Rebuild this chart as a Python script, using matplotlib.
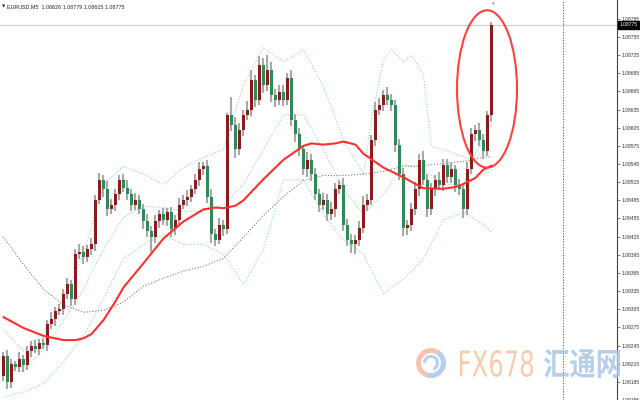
import numpy as np
import matplotlib
matplotlib.use("Agg")
import matplotlib.pyplot as plt
import matplotlib.transforms as mtrans
from matplotlib.patches import Ellipse, Wedge, PathPatch
from matplotlib.textpath import TextPath
from matplotlib.font_manager import FontProperties

# =========================
# DATA (EURUSD M5)
# =========================
SYMBOL = "EURUSD,M5"
HEADER_OHLC = ["1.08626", "1.08779", "1.08615", "1.08775"]
LAST_PRICE = 1.08775

FIRST_OPEN = 1.08195
CLOSE = [
    1.08228, 1.08185, 1.08214, 1.08210, 1.08223, 1.08213, 1.08236, 1.08244, 1.08239, 1.08249,
    1.08246, 1.08280, 1.08289, 1.08302, 1.08305, 1.08330, 1.08346, 1.08322, 1.08396, 1.08400,
    1.08391, 1.08404, 1.08412, 1.08486, 1.08519, 1.08503, 1.08470, 1.08478, 1.08495, 1.08519,
    1.08506, 1.08495, 1.08478, 1.08486, 1.08470, 1.08450, 1.08434, 1.08424, 1.08450, 1.08462,
    1.08453, 1.08465, 1.08437, 1.08453, 1.08478, 1.08486, 1.08491, 1.08503, 1.08519, 1.08536,
    1.08541, 1.08491, 1.08429, 1.08420, 1.08445, 1.08437, 1.08626, 1.08610, 1.08569, 1.08602,
    1.08626, 1.08635, 1.08684, 1.08651, 1.08709, 1.08676, 1.08701, 1.08659, 1.08651, 1.08664,
    1.08651, 1.08687, 1.08618, 1.08594, 1.08569, 1.08536, 1.08552, 1.08528, 1.08495, 1.08478,
    1.08486, 1.08462, 1.08470, 1.08503, 1.08511, 1.08445, 1.08420, 1.08412, 1.08420, 1.08440,
    1.08478, 1.08486, 1.08585, 1.08635, 1.08643, 1.08659, 1.08651, 1.08643, 1.08577, 1.08528,
    1.08440, 1.08445, 1.08470, 1.08503, 1.08552, 1.08519, 1.08470, 1.08503, 1.08519, 1.08511,
    1.08544, 1.08523, 1.08536, 1.08511, 1.08503, 1.08470, 1.08536, 1.08594, 1.08602, 1.08585,
    1.08566, 1.08626, 1.08775,
]
# wick lengths beyond the body, in pips
UP_WICK = [
    0.7, 0.9, 0.8, 0.6, 1.1, 0.7, 0.9, 0.8, 1.0, 0.7,
    0.8, 0.7, 1.1, 0.6, 0.9, 0.8, 1.0, 0.7, 0.8, 1.2,
    0.9, 0.7, 1.0, 0.8, 1.1, 0.7, 1.4, 0.9, 0.8, 0.7,
    1.0, 1.2, 0.8, 1.1, 0.7, 0.9, 1.3, 0.8, 1.0, 0.7,
    1.1, 0.8, 0.9, 0.7, 1.0, 0.8, 1.1, 0.7, 0.9, 1.2,
    0.8, 1.0, 1.2, 0.9, 1.1, 0.8, 0.4, 3.0, 1.2, 1.0,
    0.9, 1.4, 1.7, 0.8, 1.5, 1.1, 2.4, 1.3, 1.0, 1.2,
    1.1, 0.9, 1.4, 1.0, 1.1, 0.8, 1.2, 0.9, 1.0, 0.8,
    1.1, 0.9, 1.3, 1.0, 0.8, 1.1, 0.9, 1.0, 0.8, 1.1,
    1.4, 1.0, 0.8, 1.2, 1.1, 0.9, 1.3, 1.0, 0.8, 0.9,
    1.1, 0.8, 1.0, 1.2, 0.9, 1.4, 1.0, 1.1, 0.8, 1.2,
    1.0, 0.9, 1.1, 0.8, 1.0, 0.9, 1.2, 1.1, 0.8, 1.0,
    0.9, 0.7, 0.4,
]
DN_WICK = [
    0.8, 1.2, 1.0, 0.7, 0.9, 1.1, 0.8, 1.0, 0.7, 0.9,
    0.7, 1.0, 0.8, 1.1, 0.7, 0.9, 0.8, 1.2, 1.0, 0.8,
    1.1, 0.8, 0.9, 1.0, 0.7, 1.2, 1.1, 0.8, 1.0, 0.9,
    0.8, 1.0, 1.1, 0.9, 0.8, 1.2, 1.0, 2.5, 0.9, 1.1,
    0.8, 1.0, 1.3, 0.9, 1.1, 0.8, 1.0, 0.9, 0.7, 1.1,
    0.9, 1.1, 1.5, 1.0, 0.8, 1.1, 0.7, 1.0, 1.4, 0.9,
    1.1, 0.8, 1.0, 1.2, 0.9, 1.4, 1.0, 1.1, 1.2, 0.9,
    1.0, 0.8, 1.1, 1.3, 1.0, 0.9, 1.2, 1.1, 1.0, 1.2,
    0.9, 1.1, 1.0, 1.2, 0.8, 1.0, 1.1, 1.4, 1.6, 1.0,
    0.9, 1.1, 0.8, 1.0, 0.9, 1.1, 0.8, 1.0, 1.2, 0.9,
    1.4, 1.2, 1.0, 0.9, 1.1, 0.8, 1.3, 1.0, 1.1, 0.9,
    1.1, 1.0, 0.9, 1.2, 1.0, 1.5, 0.9, 0.8, 1.1, 1.0,
    1.2, 0.8, 1.1,
]

# indicator lines, sampled at bar indices
MA_IDX = [0, 5, 10, 15, 20, 25, 30, 35, 40, 45, 50, 55, 60, 65, 70, 75, 80, 85, 90, 95,
          100, 105, 110, 115, 120, 122]
MA_FAST_IDX = [0, 5, 10, 15, 18, 20, 22, 25, 28, 30, 35, 40, 45, 50, 53, 55, 58, 60, 65, 70,
               75, 77, 80, 83, 85, 88, 90, 95, 100, 103, 105, 110, 113, 115, 118, 120, 122]
MA_FAST = [1.08292, 1.08274, 1.08261, 1.08254, 1.08254, 1.08257, 1.08264, 1.08287, 1.08318,
           1.08341, 1.08381, 1.08422, 1.08450, 1.08470, 1.08473, 1.08472, 1.08476, 1.08485,
           1.08520, 1.08552, 1.08575, 1.08579, 1.08577, 1.08579, 1.08582, 1.08577, 1.08562,
           1.08539, 1.08523, 1.08512, 1.08505, 1.08504, 1.08507, 1.08512, 1.08522, 1.08536,
           1.08542]
MA_SLOW = [1.08424, 1.08379, 1.08338, 1.08312, 1.08300, 1.08303, 1.08317, 1.08343, 1.08356,
           1.08368, 1.08376, 1.08389, 1.08424, 1.08460, 1.08491, 1.08518, 1.08526, 1.08526,
           1.08528, 1.08533, 1.08541, 1.08542, 1.08546, 1.08549, 1.08556, 1.08557]
BB_MID = [1.08206, 1.08203, 1.08239, 1.08285, 1.08338, 1.08404, 1.08457, 1.08475, 1.08473,
          1.08467, 1.08467, 1.08478, 1.08511, 1.08569, 1.08626, 1.08626, 1.08569, 1.08503,
          1.08462, 1.08495, 1.08544, 1.08536, 1.08511, 1.08511, 1.08528, 1.08536]
BB_LOW = [1.08160, 1.08168, 1.08182, 1.08218, 1.08261, 1.08322, 1.08388, 1.08412, 1.08429,
          1.08412, 1.08412, 1.08396, 1.08346, 1.08404, 1.08519, 1.08519, 1.08462, 1.08420,
          1.08396, 1.08330, 1.08355, 1.08388, 1.08453, 1.08465, 1.08445, 1.08432]
BB_UP_IDX = [0, 5, 10, 15, 20, 25, 30, 35, 40, 45, 50, 55, 60, 65, 70, 75, 80, 85, 90, 92,
             95, 97, 100, 102, 105, 107, 110, 115, 117, 120, 122]
BB_UP = [1.08272, 1.08236, 1.08267, 1.08322, 1.08396, 1.08511, 1.08541, 1.08528, 1.08511,
         1.08539, 1.08556, 1.08569, 1.08676, 1.08737, 1.08714, 1.08734, 1.08673, 1.08585,
         1.08528, 1.08618, 1.08717, 1.08734, 1.08714, 1.08725, 1.08692, 1.08574, 1.08569,
         1.08557, 1.08552, 1.08585, 1.08610]

YTICKS = [1.08155, 1.08185, 1.08215, 1.08245, 1.08275, 1.08305, 1.08335, 1.08365, 1.08395,
          1.08425, 1.08455, 1.08485, 1.08515, 1.08545, 1.08575, 1.08605, 1.08635, 1.08665,
          1.08695, 1.08725, 1.08755, 1.08785]

WATERMARK_EN = "FX678"
WATERMARK_CN = "汇通网"

# =========================
# STYLE
# =========================
UP_COLOR = "#8b1c1c"
DOWN_COLOR = "#2e8b57"
WICK_COLOR = "#a8a8a8"
BB_COLOR = "#8fdcb0"
FAST_COLOR = "#ff2f2f"
SLOW_COLOR = "#7a7a7a"
LABEL_FONT = "Liberation Sans"

close = np.array(CLOSE)
opn = np.r_[FIRST_OPEN, close[:-1]]
high = np.maximum(opn, close) + np.array(UP_WICK) * 1e-4
low = np.minimum(opn, close) - np.array(DN_WICK) * 1e-4
idx = np.arange(len(close))

fig = plt.figure(figsize=(6.4, 4.0), dpi=100)
ax = fig.add_axes([0, 0, 617 / 640, 1])
ax.set_xlim(-0.875, 153.4)
ax.set_ylim(1.08157, 1.08816)

# price line + period separator
ax.axhline(LAST_PRICE, color="#cfcfcf", lw=0.8, zorder=0)
ax.axvline(139.9, color="#555555", lw=0.7, ls=(0, (1.2, 1.6)), zorder=0)

# bollinger bands
for bx, by in [(BB_UP_IDX, BB_UP), (MA_IDX, BB_MID), (MA_IDX, BB_LOW)]:
    ax.plot(bx, by, color=BB_COLOR, lw=0.8, ls=(0, (1, 1.6)), zorder=1)

# slow MA
ax.plot(MA_IDX, MA_SLOW, color=SLOW_COLOR, lw=0.8, ls=(0, (1, 1.6)), zorder=2)

# candles
ax.vlines(idx, low, high, color=WICK_COLOR, lw=1.5, zorder=3)
rising = close >= opn
body_h = np.maximum(np.abs(close - opn), 0.000012)
ax.bar(idx, body_h, bottom=np.minimum(opn, close), width=0.62,
       color=np.where(rising, UP_COLOR, DOWN_COLOR), edgecolor="none", zorder=3.5)

# fast MA
ax.plot(MA_FAST_IDX, MA_FAST, color=FAST_COLOR, lw=1.5, zorder=4)

# highlight ellipse around the spike
ax.add_patch(Ellipse((120.9, 1.08669), width=15, height=0.0026, fill=False,
                     ec="#ff4040", lw=1.5, zorder=5))

# axes look
for side in ["left", "top", "bottom"]:
    ax.spines[side].set_visible(False)
ax.spines["right"].set_color("#444444")
ax.spines["right"].set_linewidth(0.8)
ax.set_xticks([])
ax.yaxis.tick_right()
ax.set_yticks(YTICKS)
ax.set_yticklabels([f"{v:.5f}" for v in YTICKS], fontsize=3.6, family=LABEL_FONT, color="#333333")
ax.tick_params(axis="y", length=2, width=0.5, color="#444444", pad=1)

# current price tag
tr = mtrans.blended_transform_factory(ax.transAxes, ax.transData)
ax.text(1.004, LAST_PRICE, f"{LAST_PRICE:.5f}", transform=tr, ha="left", va="center",
        fontsize=3.6, family=LABEL_FONT, color="white", clip_on=False,
        bbox=dict(boxstyle="square,pad=0.25", fc="black", ec="black"))

# overlay for header and watermark (pixel coordinates, y down)
ov = fig.add_axes([0, 0, 1, 1], zorder=10)
ov.set_xlim(0, 640)
ov.set_ylim(400, 0)
ov.axis("off")
ov.patch.set_alpha(0)

ov.text(1.5, 6.5, "▼", fontsize=3, color="#222222", ha="left", va="center")
ov.text(7, 6.5, SYMBOL + "  " + " ".join(HEADER_OHLC), fontsize=3.9,
        family=LABEL_FONT, color="#222222", ha="left", va="center")
ov.text(493, 4.5, "▼", fontsize=2.6, color="#999999", ha="center", va="center")


def boxed_text(s, family, x0, x1, y0, y1, color, weight="normal"):
    tp = TextPath((0, 0), s, size=1, prop=FontProperties(family=family, weight=weight))
    ext = tp.get_extents()
    sx = (x1 - x0) / ext.width
    sy = (y1 - y0) / ext.height
    t = (mtrans.Affine2D().translate(-ext.x0, -ext.y0).scale(sx, -sy).translate(x0, y1)
         + ov.transData)
    ov.add_patch(PathPatch(tp, transform=t, fc=color, ec="none", alpha=0.85))


# watermark logo
ov.add_patch(Wedge((431, 363), 15, 110, 300, width=5, fc="#f7b9a0", ec="none", alpha=0.85))
ov.add_patch(Wedge((431, 363), 15, 300, 470, width=5, fc="#a9c7ea", ec="none", alpha=0.85))
ov.add_patch(Wedge((431, 363), 8, 180, 430, width=3, fc="#a9c7ea", ec="none", alpha=0.85))
boxed_text(WATERMARK_EN, "DejaVu Sans", 460, 533, 350, 377, "#f9c39f")
boxed_text(WATERMARK_CN, "Noto Sans CJK SC", 544, 620, 349, 378, "#a9c6e8", weight="bold")

fig.savefig("out.png", dpi=100)
